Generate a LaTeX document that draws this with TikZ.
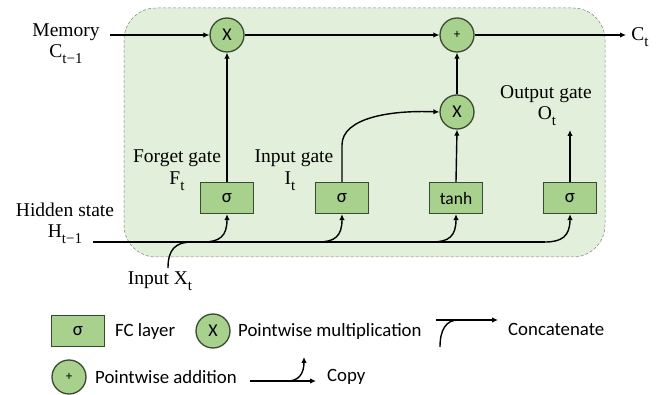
\documentclass[tikz,border=0pt]{standalone}
\usepackage{fontspec}
\setmainfont{Liberation Serif}
\newfontfamily\sansf{Carlito}
\usetikzlibrary{arrows.meta}
\definecolor{bgg}{HTML}{E2EFDA}
\definecolor{boxg}{HTML}{A9D18E}
\definecolor{edgeg}{HTML}{3A4A30}
\newcommand{\lowsub}[1]{\raisebox{-0.28em}{\fontsize{15}{15}\selectfont #1}}
\begin{document}
\begin{tikzpicture}[x=1pt,y=-1pt,
  fc/.style={draw=edgeg, line width=1.2pt, fill=boxg, minimum width=53pt, minimum height=31pt, inner sep=0pt, font=\sansf\fontsize{19}{19}\selectfont},
  pw/.style={circle, draw=edgeg, line width=1.3pt, fill=boxg, minimum size=34pt, inner sep=0pt, font=\sansf\fontsize{18}{18}\selectfont},
  lbl/.style={font=\fontsize{19.5}{20}\selectfont, inner sep=0pt},
  leg/.style={font=\sansf\fontsize{18.8}{19}\selectfont, anchor=west, inner sep=0pt},
  flow/.style={line width=1.4pt, -{Latex[length=6pt,width=5.5pt]}},
  wire/.style={line width=1.4pt}]
\useasboundingbox (0,0) rectangle (657,395);
\draw[fill=bgg, draw=gray, densely dashed, line width=0.5pt, rounded corners=32pt] (124,8) rectangle (605,257);

% operations
\node[pw] (m1) at (227,35) {X};
\node[pw, font=\sansf\fontsize{13}{13}\selectfont] (a1) at (457,35) {+};
\node[pw] (m2) at (457,112) {X};
\node[fc] (fg) at (227,198) {σ};
\node[fc] (ig) at (342,198) {σ};
\node[fc, font=\sansf\fontsize{17.5}{17.5}\selectfont] (tg) at (456,198) {tanh};
\node[fc] (og) at (570,198) {σ};

% labels
\node[lbl] (mem) at (66,32) {Memory};
\node[lbl] (cprev) at (66,54) {C\lowsub{t−1}};
\node[lbl] (ct) at (640,37) {C\lowsub{t}};
\node[lbl] (hid) at (65,210) {Hidden state};
\node[lbl] (hprev) at (65,234) {H\lowsub{t−1}};
\node[lbl] (xin) at (160,281) {Input X\lowsub{t}};
\node[lbl] (fgl) at (177,158) {Forget gate};
\node[lbl] (fgs) at (177,181) {F\lowsub{t}};
\node[lbl] (igl) at (294,158) {Input gate};
\node[lbl] (igs) at (290,181) {I\lowsub{t}};
\node[lbl] (ogl) at (546,94) {Output gate};
\node[lbl] (ogs) at (547,116) {O\lowsub{t}};

% cell state line
\coordinate (cin) at (110,35);
\coordinate (cout) at (626,35);
\draw[flow] (cin) -- (m1.west);
\draw[flow] (m1.east) -- (a1.west);
\draw[flow] (a1.east) -- (cout);

% gates
\draw[flow] (fg.north) -- (m1.south);
\draw[flow] (tg.north) -- (m2.south);
\draw[flow] (m2.north) -- (a1.south);
\coordinate (ighi) at (342,145);
\draw[flow] (ig.north) -- (ighi) .. controls (342,118) and (390,110) .. (m2.west);
\coordinate (oout) at (570,130);
\draw[flow] (og.north) -- (oout);

% hidden state line
\coordinate (hin) at (93,242);
\coordinate (hend) at (545,242);
\coordinate (xstart) at (168,268);
\coordinate (xjoin) at (192,242);
\coordinate (bf) at (203,242);
\coordinate (bi) at (318,242);
\coordinate (bt) at (432,242);
\draw[wire] (hin) -- (hend);
\draw[flow] (hend) .. controls (562,242) and (570,236) .. (og.south);
\draw[flow] (bf) .. controls (220,242) and (227,236) .. (fg.south);
\draw[flow] (bi) .. controls (335,242) and (342,236) .. (ig.south);
\draw[flow] (bt) .. controls (449,242) and (456,236) .. (tg.south);
\draw[wire] (xstart) .. controls (168,250) and (175,242) .. (xjoin);

% legend
\node[fc] (lfc) at (78,331) {σ};
\node[leg] (lfct) at (115,331) {FC layer};
\node[pw] (lmul) at (213,331) {X};
\node[leg] (lmult) at (238,331) {Pointwise multiplication};
\coordinate (cc1) at (436,320);
\coordinate (cc2) at (498,320);
\coordinate (cc3) at (440,347);
\coordinate (cc4) at (458,320);
\draw[flow] (cc1) -- (cc2);
\draw[wire] (cc3) .. controls (440,330) and (446,320) .. (cc4);
\node[leg] (lcat) at (508,329) {Concatenate};
\node[pw, font=\sansf\fontsize{13}{13}\selectfont] (ladd) at (69,377) {+};
\node[leg] (laddt) at (95,377) {Pointwise addition};
\coordinate (cp1) at (250,381);
\coordinate (cp2) at (316,381);
\coordinate (cp3) at (288,381);
\coordinate (cp4) at (304,357);
\draw[flow] (cp1) -- (cp2);
\draw[flow] (cp3) .. controls (299,381) and (304,373) .. (cp4);
\node[leg] (lcopy) at (327,377) {Copy};
\end{tikzpicture}
\end{document}
